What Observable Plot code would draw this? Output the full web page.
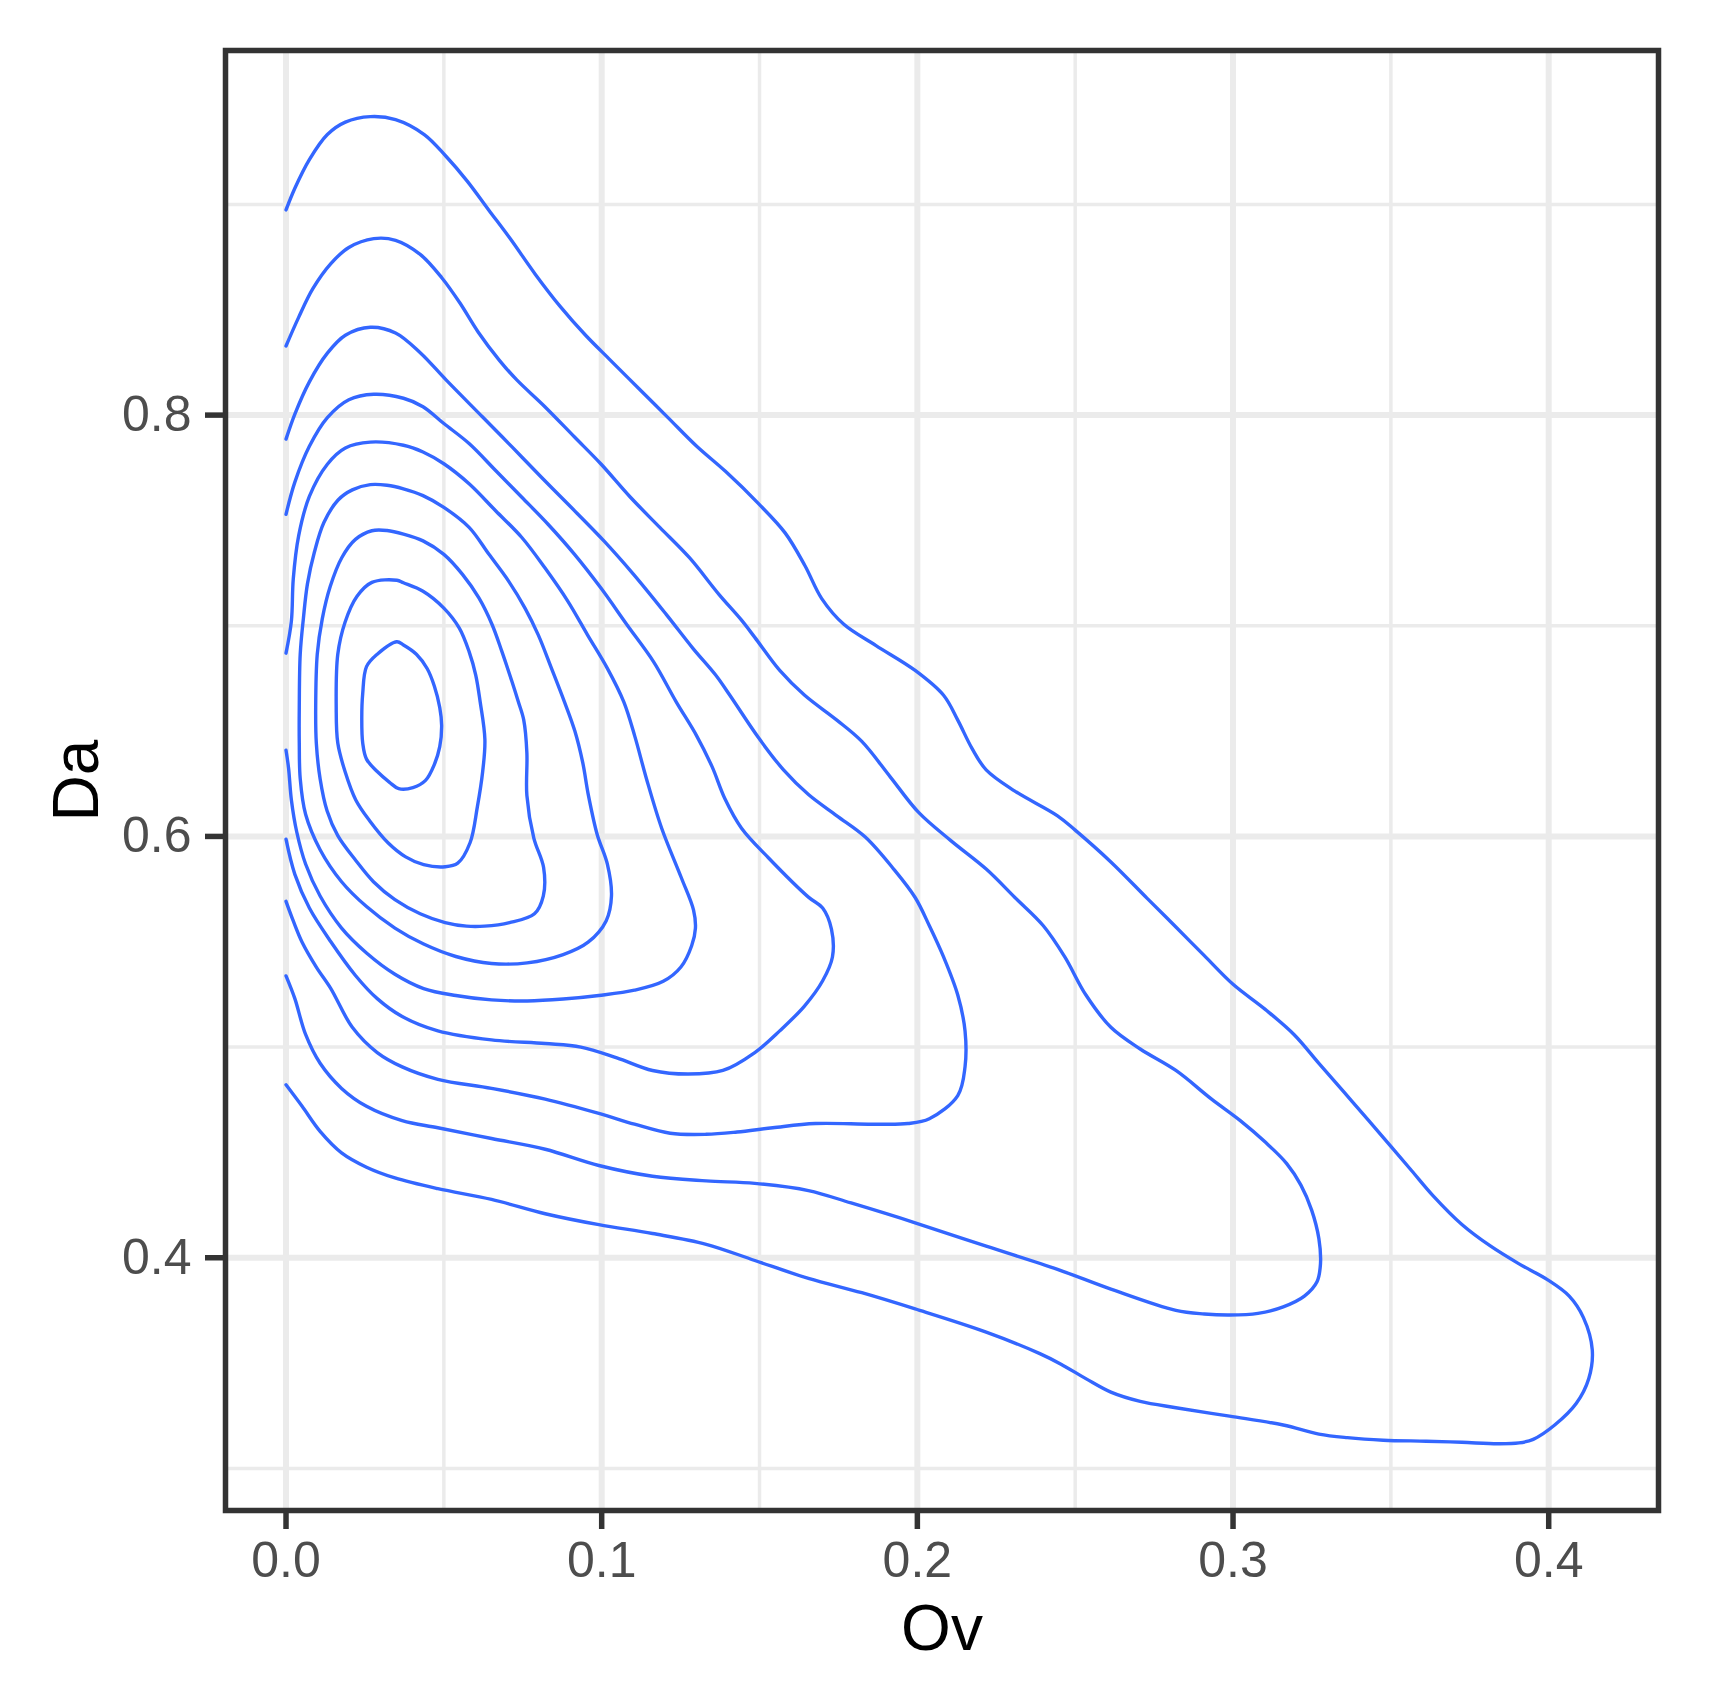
<!DOCTYPE html>
<html>
<head>
<meta charset="utf-8">
<script src="https://cdn.jsdelivr.net/npm/d3@7"></script>
<script src="https://cdn.jsdelivr.net/npm/@observablehq/plot@0.6"></script>
<style>
  html, body { margin: 0; padding: 0; background: #ffffff; }
  #chart svg { display: block; }
</style>
</head>
<body>
<div id="chart"></div>
<script>
// Density contour lines (Ov, Da), outermost level first. Open contours end on x = 0.
const contour1 = [[0,0.8974],[0.0028,0.9077],[0.0074,0.9213],[0.0131,0.9332],[0.0188,0.9391],[0.0267,0.9417],[0.0347,0.9403],[0.0438,0.9332],[0.0506,0.923],[0.0574,0.9111],[0.0642,0.8974],[0.071,0.8838],[0.079,0.8668],[0.0869,0.8515],[0.0949,0.8379],[0.1028,0.826],[0.1119,0.8124],[0.121,0.7988],[0.1301,0.7852],[0.1392,0.7733],[0.1496,0.7581],[0.1581,0.7441],[0.1644,0.7285],[0.1697,0.7129],[0.1767,0.7007],[0.1869,0.6906],[0.1993,0.6788],[0.2083,0.667],[0.2128,0.6552],[0.2173,0.6418],[0.2218,0.6316],[0.2309,0.6215],[0.2444,0.6098],[0.25,0.603],[0.2613,0.5879],[0.2728,0.5706],[0.2819,0.557],[0.2909,0.5434],[0.3,0.5298],[0.3102,0.5179],[0.3193,0.506],[0.3272,0.4923],[0.3351,0.4787],[0.343,0.4651],[0.3498,0.4532],[0.3566,0.4413],[0.3634,0.4294],[0.3725,0.4158],[0.3815,0.4056],[0.3906,0.3971],[0.3997,0.3895],[0.4065,0.3818],[0.411,0.3716],[0.4138,0.3563],[0.4127,0.3427],[0.4087,0.3308],[0.4019,0.3206],[0.3951,0.3138],[0.3906,0.3121],[0.3838,0.3117],[0.3725,0.3124],[0.3612,0.3129],[0.3476,0.3134],[0.3362,0.3146],[0.3272,0.3163],[0.3159,0.3206],[0.2989,0.3248],[0.2819,0.3288],[0.2706,0.3318],[0.2613,0.3362],[0.2535,0.3425],[0.2455,0.3495],[0.2388,0.3545],[0.2218,0.3647],[0.1993,0.3757],[0.1824,0.3834],[0.1655,0.3902],[0.1485,0.3987],[0.1331,0.4064],[0.1161,0.4115],[0.0991,0.4157],[0.0821,0.4209],[0.0651,0.4277],[0.0481,0.4328],[0.0345,0.4379],[0.0255,0.443],[0.0176,0.4498],[0.0108,0.46],[0.0051,0.4719],[0,0.4821]];
const contour2 = [[0,0.8328],[0.004,0.8464],[0.0085,0.86],[0.0142,0.8719],[0.0199,0.8796],[0.0278,0.8838],[0.0347,0.883],[0.0426,0.8762],[0.0494,0.8651],[0.0551,0.8532],[0.0608,0.8396],[0.0676,0.826],[0.0731,0.8167],[0.082,0.804],[0.0914,0.7896],[0.0997,0.7769],[0.1091,0.761],[0.1184,0.7467],[0.1278,0.7323],[0.1372,0.7148],[0.1441,0.703],[0.1485,0.6945],[0.1564,0.6788],[0.1643,0.667],[0.1745,0.6552],[0.1824,0.6451],[0.1914,0.6283],[0.2004,0.6114],[0.2106,0.598],[0.2218,0.5845],[0.2309,0.571],[0.2399,0.5576],[0.2467,0.5428],[0.2534,0.5247],[0.2613,0.5094],[0.2706,0.4991],[0.2819,0.4889],[0.2932,0.4753],[0.3023,0.4651],[0.3102,0.4549],[0.317,0.4447],[0.3215,0.4345],[0.3249,0.4226],[0.3272,0.409],[0.3277,0.3971],[0.3266,0.3886],[0.3226,0.3818],[0.3159,0.3767],[0.3079,0.3736],[0.2989,0.3728],[0.2909,0.3733],[0.2819,0.375],[0.2613,0.3851],[0.2444,0.3945],[0.2218,0.4055],[0.1993,0.4166],[0.179,0.426],[0.1655,0.4319],[0.1485,0.4353],[0.1331,0.4365],[0.1161,0.4387],[0.0991,0.4438],[0.0821,0.4515],[0.0651,0.4566],[0.0481,0.4617],[0.0368,0.4651],[0.0255,0.4719],[0.0176,0.4804],[0.0108,0.4923],[0.0062,0.506],[0.0028,0.523],[0,0.5338]];
const contour3 = [[0,0.7886],[0.0028,0.8005],[0.0074,0.8158],[0.0131,0.8294],[0.0188,0.8379],[0.0267,0.8417],[0.0347,0.839],[0.0426,0.8295],[0.0507,0.8167],[0.0622,0.7992],[0.0716,0.7849],[0.0809,0.7705],[0.0893,0.7578],[0.1007,0.7403],[0.1101,0.7244],[0.1205,0.7053],[0.1289,0.6893],[0.1361,0.6766],[0.1406,0.667],[0.1497,0.6468],[0.1576,0.6316],[0.1655,0.6199],[0.1745,0.6098],[0.1835,0.5997],[0.1925,0.5845],[0.1993,0.571],[0.2038,0.5576],[0.2083,0.5428],[0.2128,0.5247],[0.2151,0.5077],[0.2151,0.4906],[0.2128,0.477],[0.2038,0.466],[0.197,0.4637],[0.1858,0.4634],[0.1677,0.4637],[0.1542,0.4617],[0.1429,0.4597],[0.1331,0.4586],[0.1217,0.4591],[0.1104,0.4634],[0.0991,0.4685],[0.0821,0.4753],[0.0651,0.4804],[0.0481,0.4847],[0.0368,0.4906],[0.0289,0.4974],[0.021,0.5094],[0.0142,0.5278],[0.0096,0.538],[0.0051,0.5498],[0.0023,0.5599],[0,0.5692]];
const contour4 = [[0,0.7529],[0.0028,0.7682],[0.0074,0.7852],[0.0131,0.7988],[0.0199,0.8073],[0.0278,0.8099],[0.0372,0.808],[0.0434,0.804],[0.05,0.796],[0.058,0.7865],[0.0664,0.7737],[0.0747,0.761],[0.083,0.7482],[0.0914,0.7339],[0.0997,0.718],[0.108,0.7005],[0.1164,0.683],[0.1236,0.6639],[0.13,0.648],[0.135,0.633],[0.139,0.618],[0.1443,0.6039],[0.1528,0.5899],[0.1655,0.5712],[0.17,0.566],[0.1728,0.5559],[0.1731,0.5428],[0.17,0.5315],[0.1643,0.5196],[0.1564,0.5077],[0.1485,0.4974],[0.1384,0.4889],[0.1274,0.4872],[0.1161,0.4889],[0.1048,0.4949],[0.0934,0.5],[0.0821,0.5017],[0.0651,0.5034],[0.0481,0.5077],[0.0368,0.5145],[0.0289,0.523],[0.022,0.534],[0.0142,0.55],[0.0074,0.566],[0.0028,0.582],[0,0.5987]];
const contour5 = [[0,0.687],[0.0017,0.7022],[0.0023,0.7223],[0.004,0.7427],[0.0074,0.7614],[0.0131,0.7767],[0.0188,0.7844],[0.0267,0.7872],[0.0372,0.7857],[0.0434,0.7825],[0.05,0.7769],[0.058,0.7674],[0.0664,0.7546],[0.0747,0.7419],[0.082,0.7275],[0.0893,0.7116],[0.0955,0.6957],[0.1018,0.6798],[0.107,0.6639],[0.1105,0.6475],[0.1142,0.6273],[0.119,0.6039],[0.1252,0.5805],[0.1291,0.565],[0.1297,0.5565],[0.1285,0.5481],[0.1251,0.538],[0.1195,0.5312],[0.1104,0.527],[0.0991,0.5245],[0.0878,0.5228],[0.0764,0.5219],[0.0651,0.5224],[0.0538,0.5245],[0.0436,0.5278],[0.0345,0.5346],[0.0255,0.5447],[0.0176,0.5565],[0.0108,0.5717],[0.0062,0.5869],[0.0034,0.6021],[0.0017,0.6173],[0.0008,0.6325],[0,0.6409]];
// Closed contours (first point not repeated)
const contour6 = [[0.0267,0.767],[0.032,0.7667],[0.0372,0.765],[0.0434,0.7618],[0.05,0.7562],[0.058,0.7467],[0.0643,0.7339],[0.0705,0.7212],[0.0757,0.7084],[0.0799,0.6957],[0.0841,0.6798],[0.0882,0.6639],[0.0915,0.65],[0.094,0.635],[0.0958,0.6195],[0.0986,0.6008],[0.1018,0.5868],[0.1031,0.5717],[0.1014,0.5599],[0.0957,0.5498],[0.0878,0.5439],[0.0764,0.54],[0.0651,0.5397],[0.0538,0.543],[0.0436,0.5489],[0.0345,0.5565],[0.0255,0.5667],[0.0176,0.5785],[0.0108,0.5937],[0.0062,0.6105],[0.0045,0.6274],[0.0042,0.6443],[0.0042,0.6612],[0.0045,0.6865],[0.0055,0.7034],[0.0068,0.72],[0.009,0.735],[0.012,0.749],[0.0165,0.7597],[0.021,0.7645]];
const contour7 = [[0.0272,0.7451],[0.032,0.7452],[0.0372,0.7435],[0.0434,0.7403],[0.05,0.7339],[0.0559,0.7244],[0.0611,0.7132],[0.0653,0.7005],[0.0684,0.6877],[0.0716,0.6734],[0.0736,0.6639],[0.0753,0.6553],[0.0763,0.6397],[0.0763,0.6195],[0.0785,0.5992],[0.0816,0.5852],[0.0815,0.5717],[0.0787,0.5633],[0.0708,0.5591],[0.0629,0.5574],[0.0572,0.5574],[0.0504,0.5591],[0.0425,0.5633],[0.0345,0.57],[0.0277,0.5785],[0.0221,0.5886],[0.0164,0.6004],[0.013,0.6122],[0.0108,0.6274],[0.0096,0.6443],[0.0094,0.6612],[0.0099,0.6865],[0.0115,0.7034],[0.014,0.7186],[0.0177,0.7324],[0.022,0.741]];
const contour8 = [[0.0272,0.7206],[0.0351,0.7216],[0.0372,0.7204],[0.0434,0.7164],[0.05,0.7084],[0.0549,0.6989],[0.058,0.6877],[0.0601,0.6766],[0.0615,0.6639],[0.063,0.646],[0.0623,0.6308],[0.0606,0.6139],[0.0583,0.597],[0.0544,0.5873],[0.0504,0.5856],[0.0436,0.5866],[0.0379,0.5903],[0.0323,0.597],[0.0266,0.6072],[0.0221,0.6173],[0.0187,0.6308],[0.0164,0.6443],[0.0159,0.6612],[0.0164,0.6865],[0.0187,0.7017],[0.0225,0.714]];
const contour9 = [[0.0351,0.6924],[0.0372,0.6909],[0.0413,0.6865],[0.0447,0.6797],[0.047,0.6713],[0.0487,0.6612],[0.0493,0.6527],[0.0487,0.6426],[0.047,0.6342],[0.0442,0.6266],[0.0402,0.6232],[0.0357,0.6227],[0.0328,0.6257],[0.0289,0.6308],[0.0255,0.6367],[0.0243,0.6443],[0.024,0.6561],[0.0243,0.6679],[0.0255,0.6806],[0.0289,0.6865]];

// Axis ticks and labels
const xMajorTicks = [0, 0.1, 0.2, 0.3, 0.4];
const xMinorTicks = [0.05, 0.15, 0.25, 0.35];
const yMajorTicks = [0.4, 0.6, 0.8];
const yMinorTicks = [0.3, 0.5, 0.7, 0.9];
const xTickLabels = ["0.0", "0.1", "0.2", "0.3", "0.4"];
const yTickLabels = ["0.4", "0.6", "0.8"];
const xTitle = "Ov";
const yTitle = "Da";

const openContours = [contour1, contour2, contour3, contour4, contour5];
const closedContours = [contour6, contour7, contour8, contour9];

const toRows = (list, offset) => list.flatMap((pts, i) => pts.map(([x, y]) => ({x, y, level: i + 1 + offset})));
const openRows = toRows(openContours, 0);
const closedRows = toRows(closedContours, openContours.length);

const grid = "#EBEBEB";
const lineColor = "#3366FF";
const font = "'Liberation Sans', Arial, Helvetica, sans-serif";

const chart = Plot.plot({
  width: 1717,
  height: 1688,
  marginLeft: 225,
  marginRight: 59,
  marginTop: 50,
  marginBottom: 178,
  x: {domain: [-0.01917, 0.43478], label: null},
  y: {domain: [0.28002, 0.97308], label: null},
  style: {fontFamily: font, background: "#ffffff", color: "#4D4D4D"},
  marks: [
    Plot.ruleX(xMinorTicks, {stroke: grid, strokeWidth: 3.5}),
    Plot.ruleY(yMinorTicks, {stroke: grid, strokeWidth: 3.5}),
    Plot.ruleX(xMajorTicks, {stroke: grid, strokeWidth: 6}),
    Plot.ruleY(yMajorTicks, {stroke: grid, strokeWidth: 6}),
    Plot.line(openRows, {x: "x", y: "y", z: "level", stroke: lineColor, strokeWidth: 3.4, curve: "catmull-rom"}),
    Plot.line(closedRows, {x: "x", y: "y", z: "level", stroke: lineColor, strokeWidth: 3.4, curve: "catmull-rom-closed"}),
    Plot.frame({stroke: "#333333", strokeWidth: 5.5}),
    Plot.axisX(xMajorTicks, {
      anchor: "bottom", label: null, tickSize: 19, tickPadding: 12,
      stroke: "#333333", strokeWidth: 5.5, fill: "#4D4D4D", fontSize: 50,
      tickFormat: (d) => xTickLabels[xMajorTicks.indexOf(d)]
    }),
    Plot.axisY(yMajorTicks, {
      anchor: "left", label: null, tickSize: 20, tickPadding: 14,
      stroke: "#333333", strokeWidth: 5.5, fill: "#4D4D4D", fontSize: 50,
      tickFormat: (d) => yTickLabels[yMajorTicks.indexOf(d)]
    }),
    Plot.text([xTitle], {frameAnchor: "bottom", lineAnchor: "bottom", dy: 139, fontSize: 64, fill: "#000000", text: (d) => d}),
    Plot.text([yTitle], {frameAnchor: "left", lineAnchor: "bottom", textAnchor: "middle", rotate: -90, dx: -128, fontSize: 64, fill: "#000000", text: (d) => d})
  ]
});

document.getElementById("chart").appendChild(chart);
</script>
</body>
</html>
